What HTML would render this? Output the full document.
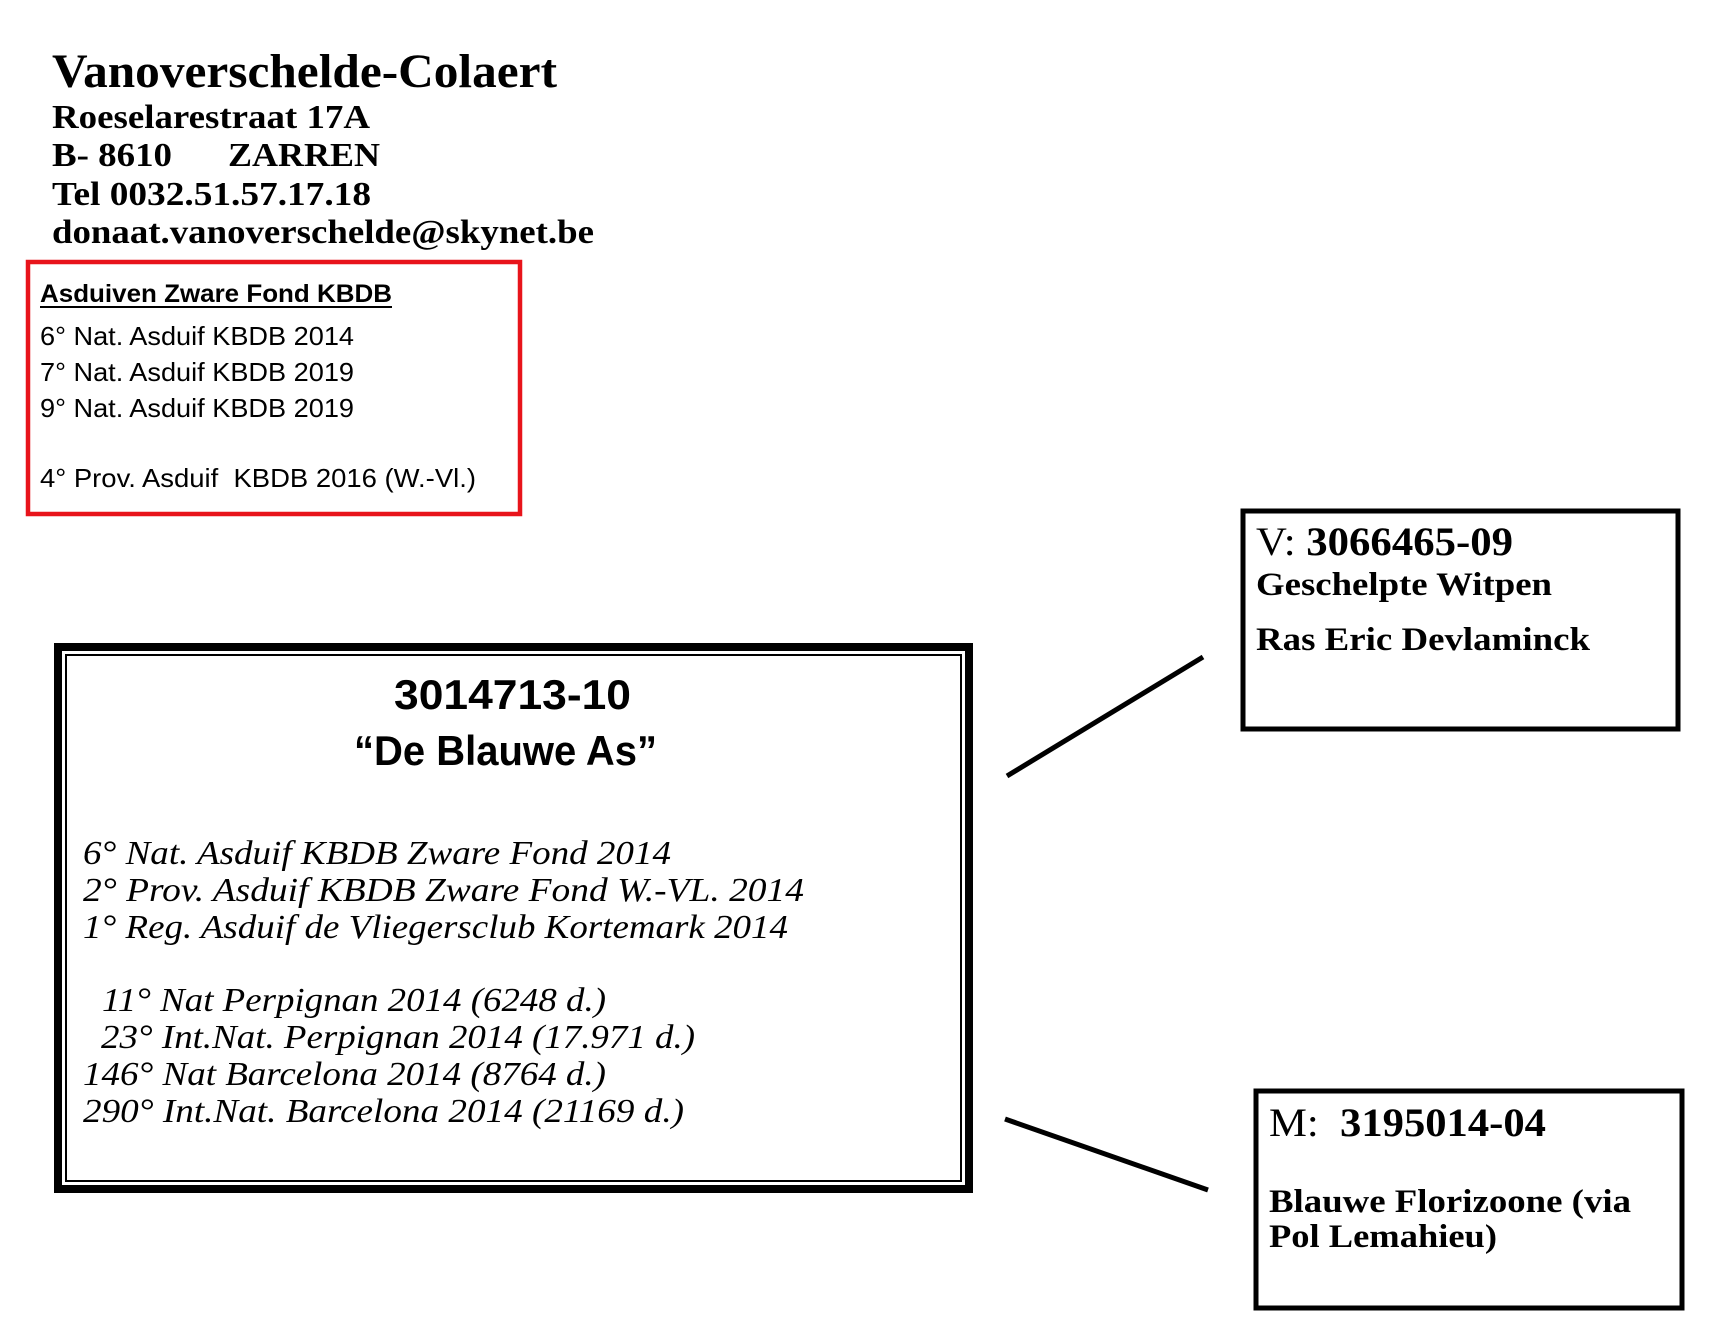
<!DOCTYPE html>
<html><head><meta charset="utf-8"><style>
html,body{margin:0;padding:0;background:#fff;}
svg{display:block;}
.h{font-family:"Liberation Serif",serif;font-weight:bold;fill:#000;}
.c{font-family:"Liberation Sans",sans-serif;fill:#000;}
.i{font-family:"Liberation Serif",serif;font-style:italic;fill:#000;}
</style></head><body>
<svg width="1720" height="1318" viewBox="0 0 1720 1318" xmlns="http://www.w3.org/2000/svg">
<text class="h" x="52" y="87" font-size="48" textLength="505" lengthAdjust="spacingAndGlyphs">Vanoverschelde-Colaert</text>
<text class="h" x="52" y="128" font-size="34" textLength="318" lengthAdjust="spacingAndGlyphs">Roeselarestraat 17A</text>
<text class="h" x="52" y="166" font-size="34" textLength="120" lengthAdjust="spacingAndGlyphs">B- 8610</text>
<text class="h" x="228" y="166" font-size="34" textLength="152" lengthAdjust="spacingAndGlyphs">ZARREN</text>
<text class="h" x="52" y="205" font-size="34" textLength="319" lengthAdjust="spacingAndGlyphs">Tel 0032.51.57.17.18</text>
<text class="h" x="52" y="243" font-size="34" textLength="542" lengthAdjust="spacingAndGlyphs">donaat.vanoverschelde@skynet.be</text>

<rect x="28" y="262" width="492" height="252" fill="none" stroke="#e8141b" stroke-width="4.5"/>
<text class="c" x="40" y="302" font-size="25" font-weight="bold" textLength="352" lengthAdjust="spacingAndGlyphs">Asduiven Zware Fond KBDB</text>
<rect x="40" y="306" width="352" height="2" fill="#000"/>
<text class="c" x="40" y="345" font-size="26" textLength="314" lengthAdjust="spacingAndGlyphs">6° Nat. Asduif KBDB 2014</text>
<text class="c" x="40" y="381" font-size="26" textLength="314" lengthAdjust="spacingAndGlyphs">7° Nat. Asduif KBDB 2019</text>
<text class="c" x="40" y="417" font-size="26" textLength="314" lengthAdjust="spacingAndGlyphs">9° Nat. Asduif KBDB 2019</text>
<text class="c" x="40" y="487" font-size="26" textLength="436" lengthAdjust="spacingAndGlyphs" xml:space="preserve">4° Prov. Asduif  KBDB 2016 (W.-Vl.)</text>

<rect x="58" y="647" width="911" height="542" fill="none" stroke="#000" stroke-width="8"/>
<rect x="66" y="655" width="895" height="526" fill="none" stroke="#000" stroke-width="2"/>
<text class="c" x="394" y="709" font-size="42" font-weight="bold" textLength="237" lengthAdjust="spacingAndGlyphs">3014713-10</text>
<text class="c" x="354" y="765" font-size="42" font-weight="bold" textLength="303" lengthAdjust="spacingAndGlyphs">“De Blauwe As”</text>
<text class="i" x="83" y="864" font-size="34" textLength="588" lengthAdjust="spacingAndGlyphs">6° Nat. Asduif KBDB Zware Fond 2014</text>
<text class="i" x="83" y="901" font-size="34" textLength="721" lengthAdjust="spacingAndGlyphs">2° Prov. Asduif KBDB Zware Fond W.-VL. 2014</text>
<text class="i" x="83" y="938" font-size="34" textLength="705" lengthAdjust="spacingAndGlyphs">1° Reg. Asduif de Vliegersclub Kortemark 2014</text>
<text class="i" x="102" y="1011" font-size="34" textLength="504" lengthAdjust="spacingAndGlyphs">11° Nat Perpignan 2014 (6248 d.)</text>
<text class="i" x="101" y="1048" font-size="34" textLength="594" lengthAdjust="spacingAndGlyphs">23° Int.Nat. Perpignan 2014 (17.971 d.)</text>
<text class="i" x="83" y="1085" font-size="34" textLength="523" lengthAdjust="spacingAndGlyphs">146° Nat Barcelona 2014 (8764 d.)</text>
<text class="i" x="83" y="1122" font-size="34" textLength="601" lengthAdjust="spacingAndGlyphs">290° Int.Nat. Barcelona 2014 (21169 d.)</text>

<line x1="1007" y1="776" x2="1203" y2="657" stroke="#000" stroke-width="5"/>
<line x1="1005" y1="1119" x2="1208" y2="1190" stroke="#000" stroke-width="5"/>

<rect x="1243" y="511" width="435" height="218" fill="none" stroke="#000" stroke-width="5"/>
<text x="1256" y="555" font-size="40" font-family="Liberation Serif, serif" fill="#000" textLength="257" lengthAdjust="spacingAndGlyphs">V: <tspan font-weight="bold">3066465-09</tspan></text>
<text class="h" x="1256" y="595" font-size="33" textLength="296" lengthAdjust="spacingAndGlyphs">Geschelpte Witpen</text>
<text class="h" x="1256" y="650" font-size="33" textLength="334" lengthAdjust="spacingAndGlyphs">Ras Eric Devlaminck</text>

<rect x="1256" y="1091" width="426" height="217" fill="none" stroke="#000" stroke-width="5"/>
<text x="1269" y="1136" font-size="40" font-family="Liberation Serif, serif" fill="#000" xml:space="preserve" textLength="277" lengthAdjust="spacingAndGlyphs">M:  <tspan font-weight="bold">3195014-04</tspan></text>
<text class="h" x="1269" y="1212" font-size="33" textLength="362" lengthAdjust="spacingAndGlyphs">Blauwe Florizoone (via</text>
<text class="h" x="1269" y="1247" font-size="33" textLength="228" lengthAdjust="spacingAndGlyphs">Pol Lemahieu)</text>
</svg>
</body></html>
